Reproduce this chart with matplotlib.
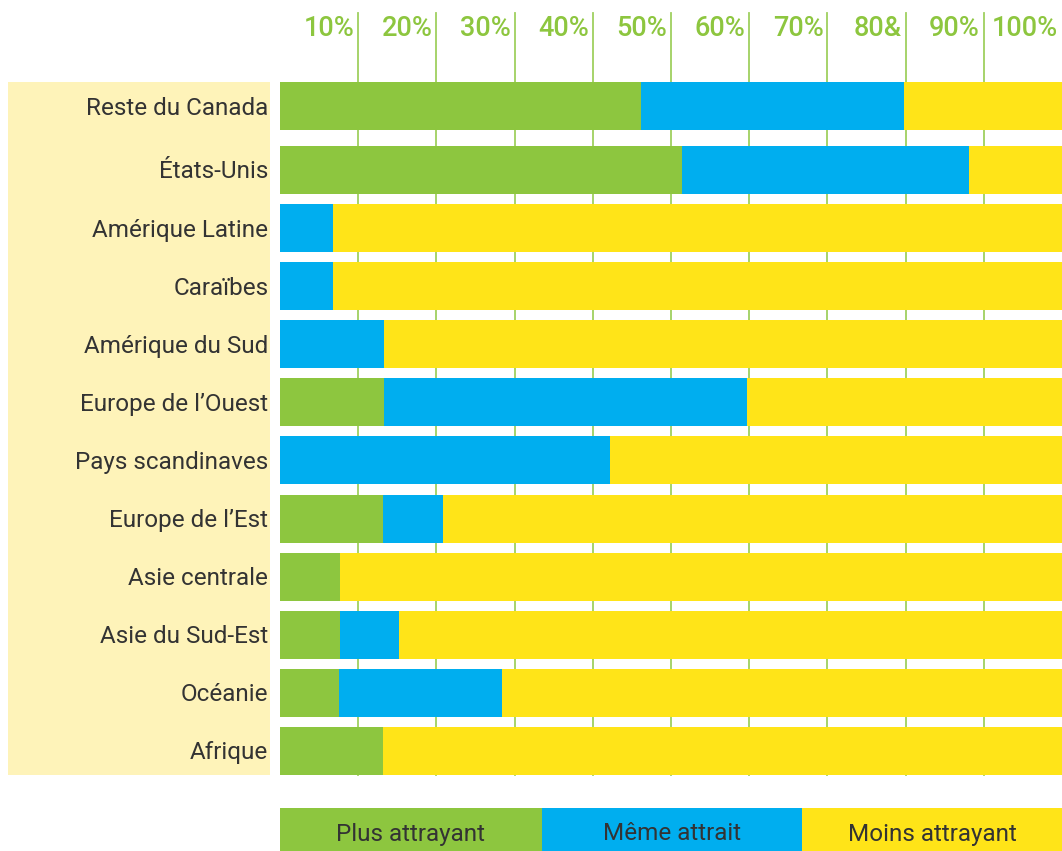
import numpy as np
import matplotlib
matplotlib.use("Agg")
import matplotlib.pyplot as plt
from matplotlib.patches import Rectangle
import matplotlib.transforms as mtransforms

plt.rcParams['font.family'] = ['Roboto', 'DejaVu Sans']

categories = ["Reste du Canada", "États-Unis", "Amérique Latine", "Caraïbes",
              "Amérique du Sud", "Europe de l’Ouest", "Pays scandinaves",
              "Europe de l’Est", "Asie centrale", "Asie du Sud-Est", "Océanie", "Afrique"]
plus = [46.2, 51.4, 0, 0, 0, 13.3, 0, 13.2, 7.7, 7.7, 7.6, 13.2]
meme = [33.6, 36.7, 6.8, 6.8, 13.3, 46.4, 42.2, 7.7, 0, 7.5, 20.8, 0]
moins = [20.2, 11.9, 93.2, 93.2, 86.7, 40.3, 57.8, 79.1, 92.3, 84.8, 71.6, 86.8]
series_names = ["Plus attrayant", "Même attrait", "Moins attrayant"]
tick_values = [10, 20, 30, 40, 50, 60, 70, 80, 90, 100]
tick_labels = ["10%", "20%", "30%", "40%", "50%", "60%", "70%", "80&", "90%", "100%"]

GREEN = "#8dc63f"
BLUE = "#00aeef"
YELLOW = "#ffe418"
PANEL = "#fef3b9"
TEXT = "#333333"

W, H = 1062, 851
fig = plt.figure(figsize=(W / 100, H / 100), dpi=100)

# left panel
fig.patches.append(Rectangle((8 / W, (H - 775) / H), (270 - 8) / W, (775 - 82) / H,
                             transform=fig.transFigure, facecolor=PANEL, edgecolor='none', zorder=-1))

ax = fig.add_axes([280 / W, (H - 775) / H, 782 / W, (775 - 82) / H])
ax.set_facecolor('none')
ax.set_zorder(1)
n = len(categories)
idx = np.arange(n)
ypos = idx + (idx > 0) * 0.1
bh = 48 / 58
ax.set_xlim(0, 100)
ax.set_ylim(ypos[-1] + bh / 2, ypos[0] - bh / 2)

plus = np.array(plus); meme = np.array(meme); moins = np.array(moins)
ax.barh(ypos, plus, height=bh, color=GREEN, zorder=3)
ax.barh(ypos, meme, left=plus, height=bh, color=BLUE, zorder=3)
ax.barh(ypos, moins, left=plus + meme, height=bh, color=YELLOW, zorder=3)

# gridlines extending above axes
axes_h_px = 775 - 82
top_frac = (775 - 13) / axes_h_px
trans = mtransforms.blended_transform_factory(ax.transData, ax.transAxes)
for t in tick_values[:-1]:
    ax.plot([t, t], [0, top_frac], transform=trans, color="#9fd05f", lw=1.3,
            clip_on=False, zorder=1)

# top tick labels
off = mtransforms.offset_copy(trans, fig=fig, x=-4, y=-2, units='dots')
for t, lab in zip(tick_values, tick_labels):
    ax.text(t, (775 - 27) / axes_h_px, lab, transform=off, ha='right', va='center',
            color=GREEN, fontsize=19.5, fontweight='medium', clip_on=False)

# category labels
off_lab = mtransforms.offset_copy(ax.transData, fig=fig, x=0, y=-2, units='dots')
for y, c in zip(ypos, categories):
    ax.text(-1.5, y, c, ha='right', va='center', fontsize=17.5, color=TEXT,
            clip_on=False, transform=off_lab)

ax.set_xticks([]); ax.set_yticks([])
for s in ax.spines.values():
    s.set_visible(False)

# legend boxes
legend_colors = [GREEN, BLUE, YELLOW]
edges = [280, 542, 802, 1062]
for i, (name, col) in enumerate(zip(series_names, legend_colors)):
    x0, x1 = edges[i], edges[i + 1]
    fig.patches.append(Rectangle((x0 / W, 0), (x1 - x0) / W, (851 - 808) / H,
                                 transform=fig.transFigure, facecolor=col, edgecolor='none'))
    fig.text((x0 + x1) / 2 / W, (H - 834) / H, name, ha='center', va='center',
             fontsize=17.5, color=TEXT)

fig.savefig("out.png", dpi=100)
